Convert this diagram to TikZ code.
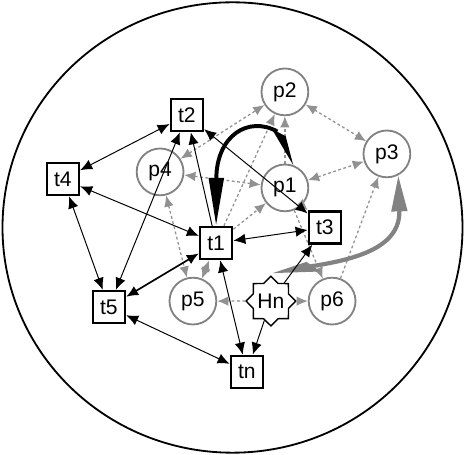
\documentclass[tikz,border=0pt]{standalone}
\usepackage{fontspec}
\setmainfont{Liberation Sans}
\usetikzlibrary{arrows.meta}
\usetikzlibrary{shapes.geometric}
\definecolor{placegray}{RGB}{130,130,130}
\definecolor{linkgray}{RGB}{145,145,145}

\begin{document}
\begin{tikzpicture}[
    font=\fontsize{15}{17}\selectfont,
    trans/.style={draw, fill=white, line width=1.8pt, minimum size=0.8cm, inner sep=0pt},
    place/.style={draw=placegray, circle, line width=1.3pt, minimum size=1.17cm, inner sep=0pt},
    hub/.style={draw, star, star points=8, star point ratio=1.3, line width=1pt, minimum size=1.2cm, inner sep=0pt},
    arc/.style={line width=0.7pt, -{Latex[length=3mm,width=2.6mm]}},
    darc/.style={line width=0.7pt, {Latex[length=3mm,width=2.6mm]}-{Latex[length=3mm,width=2.6mm]}},
    garc/.style={linkgray, line width=0.9pt, dash pattern=on 2pt off 1.8pt, -{Latex[length=2.8mm,width=2.4mm]}},
    gdarc/.style={linkgray, line width=0.9pt, dash pattern=on 2pt off 1.8pt, {Latex[length=2.8mm,width=2.4mm]}-{Latex[length=2.8mm,width=2.4mm]}}]
    \useasboundingbox (-5.8125, -5.6875) rectangle (5.8125, 5.6875);
    \draw[line width=1.3pt] (0, 0) ellipse (5.75cm and 5.63cm);

    % places
    \node[place] (p2) at (1.31, 3.39) {p2};
    \node[place] (p3) at (3.86, 1.84) {p3};
    \node[place] (p4) at (-1.81, 1.39) {p4};
    \node[place] (p1) at (1.31, 0.99) {p1};
    \node[place] (p5) at (-0.99, -1.84) {p5};
    \node[place] (p6) at (2.49, -1.84) {p6};
    \node[hub] (hn) at (0.96, -1.84) {Hn};

    % gray links
    \draw[gdarc] (p4) -- (p2);
    \draw[gdarc] (p4) -- (p1);
    \draw[gdarc] (p4) -- (p5);
    \draw[gdarc] (p2) -- (p3);
    \draw[gdarc] (p1) -- (p3);
    \draw[garc] (p1) -- (p2);
    \draw[garc] (p1) -- (p6);
    \draw[garc] (p6) -- (p3);
    \draw[garc] (hn) -- (p5);
    \draw[garc] (hn) -- (p6);

    % transitions
    \node[trans] (t2) at (-1.14, 2.81) {t2};
    \node[trans] (t4) at (-4.24, 1.21) {t4};
    \node[trans] (t1) at (-0.41, -0.39) {t1};
    \node[trans] (t3) at (2.31, 0.0) {t3};
    \node[trans] (t5) at (-3.09, -1.99) {t5};
    \node[trans] (tn) at (0.36, -3.61) {tn};

    \draw[garc] (t1) -- (p2);
    \draw[garc] (t1) -- (p1);
    \draw[gdarc] (p5) -- (t1);
    \draw[garc] (p1) -- (t3.north west);

    % big gray flow
    \fill[placegray] (1.01, -1.14) -- (1.85, -0.86) -- (2.2, -1.1) -- cycle;
    \draw[placegray, line width=3pt, -{Triangle[length=9mm,width=3.8mm]}] (1.9, -0.98) .. controls (3.1, -0.8) and (4.2, -0.5) .. (p3.-62);

    % black links
    \draw[darc] (t2) -- (t4);
    \draw[darc] (t4) -- (t1);
    \draw[darc] (t4) -- (t5);
    \draw[darc] (t2) -- (t5);
    \draw[darc] (t2) -- (t3);
    \draw[arc] (t1) -- (t2);
    \draw[darc] (t1) -- (t3);
    \draw[darc, line width=1.2pt] (t1) -- (t5);
    \draw[darc] (t1) -- (tn);
    \draw[darc] (t5) -- (tn);
    \draw[arc] (hn) -- (t3);
    \draw[arc] (hn) -- (tn);

    % thick black loop from p1 to t1
    \fill (p1.70) -- (0.98, 2.47) -- (1.33, 2.28) -- cycle;
    \draw[line width=2.8pt, -{Triangle[length=12mm,width=3.6mm]}] (1.12, 2.4) .. controls (0.4, 2.8) and (-0.4, 2.3) .. (t1.north);
\end{tikzpicture}
\end{document}
